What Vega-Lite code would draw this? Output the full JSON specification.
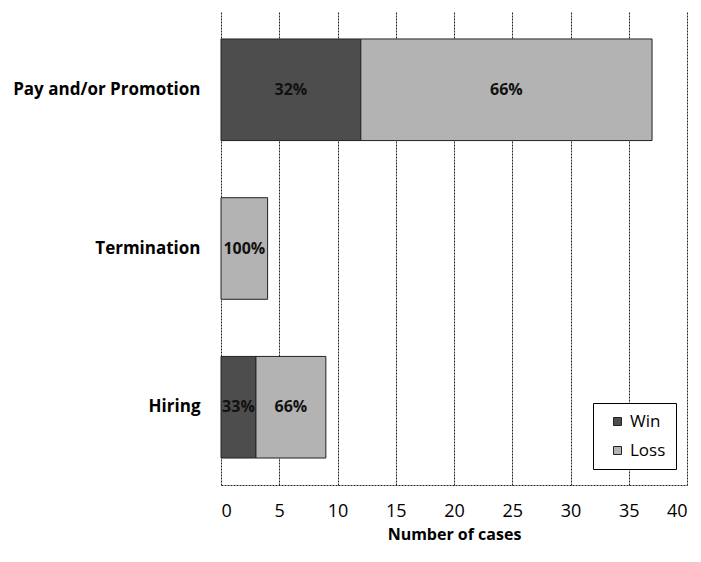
{
  "$schema": "https://vega.github.io/schema/vega-lite/v6.json",
  "width": 466,
  "height": 473,
  "autosize": {"type": "none"},
  "padding": {"left": 221, "top": 12, "right": 14, "bottom": 77},
  "background": "white",
  "config": {
    "font": "Open Sans",
    "view": {"stroke": null}
  },
  "data": {
    "values": [
      {"cause": "Pay and/or Promotion", "outcome": "Win", "cases": 12, "label": "32%"},
      {"cause": "Pay and/or Promotion", "outcome": "Loss", "cases": 25, "label": "66%"},
      {"cause": "Termination", "outcome": "Loss", "cases": 4, "label": "100%"},
      {"cause": "Hiring", "outcome": "Win", "cases": 3, "label": "33%"},
      {"cause": "Hiring", "outcome": "Loss", "cases": 6, "label": "66%"}
    ]
  },
  "transform": [
    {"stack": "cases", "groupby": ["cause"], "sort": [{"field": "outcome", "order": "descending"}], "as": ["x0", "x1"]}
  ],
  "encoding": {
    "y": {
      "field": "cause",
      "type": "nominal",
      "sort": ["Pay and/or Promotion", "Termination", "Hiring"],
      "scale": {"paddingInner": 0.36, "paddingOuter": 0.17},
      "axis": {
        "title": null,
        "domain": false,
        "ticks": false,
        "labelPadding": 21,
        "labelLimit": 260,
        "labelFontSize": 17,
        "labelFontWeight": "bold",
        "labelColor": "#000"
      }
    }
  },
  "layer": [
    {
      "mark": {"type": "bar", "stroke": "#222", "strokeWidth": 1},
      "encoding": {
        "x": {
          "field": "x0",
          "type": "quantitative",
          "scale": {"domain": [0, 40], "nice": false},
          "axis": {
            "values": [0, 5, 10, 15, 20, 25, 30, 35, 40],
            "grid": true,
            "gridColor": "#222",
            "gridDash": [2, 1],
            "gridWidth": 1,
            "gridOpacity": 1,
            "domain": true,
            "domainColor": "#222",
            "domainDash": [2, 1],
            "ticks": false,
            "labelFontSize": 18,
            "labelPadding": 17,
            "labelColor": "#000",
            "title": "Number of cases",
            "titleFontSize": 16,
            "titleFontWeight": "bold",
            "titleColor": "#000",
            "titlePadding": 6
          }
        },
        "x2": {"field": "x1"},
        "color": {
          "field": "outcome",
          "type": "nominal",
          "scale": {"domain": ["Win", "Loss"], "range": ["#4d4d4d", "#b3b3b3"]},
          "legend": {
            "orient": "none",
            "legendX": 372,
            "legendY": 391,
            "title": null,
            "strokeColor": "#000",
            "fillColor": "white",
            "padding": 10,
            "symbolType": "square",
            "symbolSize": 64,
            "symbolStrokeColor": "#222",
            "symbolStrokeWidth": 1,
            "symbolOffset": 6,
            "labelFontSize": 17,
            "labelColor": "#000",
            "labelOffset": 4,
            "rowPadding": 11
          }
        }
      }
    },
    {
      "transform": [
        {"fold": ["x0", "x1"], "as": ["edge", "pos"]},
        {"aggregate": [{"op": "mean", "field": "pos", "as": "mid"}], "groupby": ["cause", "outcome", "label"]}
      ],
      "mark": {"type": "text", "fontWeight": "bold", "fontSize": 16, "color": "#111"},
      "encoding": {
        "x": {"field": "mid", "type": "quantitative"},
        "text": {"field": "label"}
      }
    }
  ]
}
